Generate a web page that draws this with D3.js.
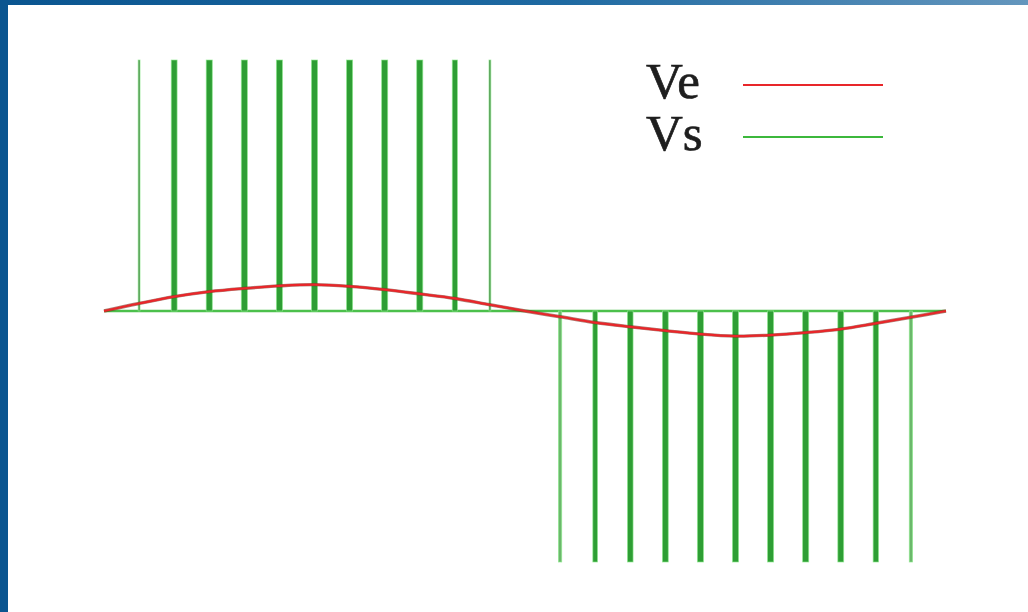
<!DOCTYPE html>
<html>
<head>
<meta charset="utf-8">
<script src="https://cdn.jsdelivr.net/npm/d3@7"></script>
<style>
  html, body { margin: 0; padding: 0; background: #fff; }
  svg { display: block; }
</style>
</head>
<body>
<svg id="chart" width="1028" height="612"></svg>
<script>
// Sinusoidal PWM: reference voltage Ve and switched output Vs over one period (degrees)

// Ve samples (angle in degrees, value in volts)
const veAngles = [0, 15, 30, 45, 60, 75, 90, 105, 120, 135, 150, 165, 180,
                  195, 210, 225, 240, 255, 270, 285, 300, 315, 330, 345, 360];
const veValues = [0, 0.30, 0.57, 0.77, 0.90, 1.00, 1.05, 0.98, 0.85, 0.68, 0.50, 0.25, 0,
                  -0.23, -0.46, -0.63, -0.78, -0.92, -1.00, -0.96, -0.86, -0.72, -0.49, -0.25, 0];

// Vs pulses: centre angle, width (degrees) and level (volts)
const pulseAngles = [15, 30, 45, 60, 75, 90, 105, 120, 135, 150, 165,
                     195, 210, 225, 240, 255, 270, 285, 300, 315, 330, 345];
const pulseWidths = [0.8, 2.5, 2.6, 2.6, 2.6, 2.6, 2.6, 2.6, 2.6, 2.2, 0.8,
                     1.4, 2.0, 2.4, 2.5, 2.6, 2.6, 2.6, 2.6, 2.5, 2.3, 1.4];
const pulseLevels = [10, 10, 10, 10, 10, 10, 10, 10, 10, 10, 10,
                     -10, -10, -10, -10, -10, -10, -10, -10, -10, -10, -10];

const legendNames = ["Ve", "Vs"];
const legendColors = ["#e8262a", "#3cb83c"];

const svg = d3.select("#chart");
const W = 1028, H = 612;

// frame: gradient band on top, solid bar on the left
const defs = svg.append("defs");
const grad = defs.append("linearGradient").attr("id", "topband")
  .attr("x1", "0%").attr("x2", "100%").attr("y1", "0%").attr("y2", "0%");
grad.append("stop").attr("offset", "0%").attr("stop-color", "#0a5590");
grad.append("stop").attr("offset", "55%").attr("stop-color", "#1f6aa2");
grad.append("stop").attr("offset", "100%").attr("stop-color", "#6496bd");

svg.append("rect").attr("x", 0).attr("y", 0).attr("width", W).attr("height", H).attr("fill", "#ffffff");
svg.append("rect").attr("x", 0).attr("y", 0).attr("width", W).attr("height", 5).attr("fill", "url(#topband)");
svg.append("rect").attr("x", 0).attr("y", 0).attr("width", 8).attr("height", H).attr("fill", "#0a5590");

// scales
const x = d3.scaleLinear().domain([0, 360]).range([104, 946]);
const y = d3.scaleLinear().domain([-10, 10]).range([562, 60]);

// zero line of Vs
svg.append("line")
  .attr("x1", x(0)).attr("x2", x(360))
  .attr("y1", y(0)).attr("y2", y(0))
  .attr("stroke", "#4cc04c").attr("stroke-width", 2.4);

// Vs pulses
const pulses = pulseAngles.map((a, i) => ({ a, w: pulseWidths[i], v: pulseLevels[i] }));
svg.append("g").selectAll("rect")
  .data(pulses)
  .join("rect")
  .attr("x", d => x(d.a - d.w / 2))
  .attr("width", d => x(d.w) - x(0))
  .attr("y", d => Math.min(y(d.v), y(0)))
  .attr("height", d => Math.abs(y(d.v) - y(0)))
  .attr("fill", d => d.w < 1 ? "#4f8f4f" : (d.w < 1.6 ? "#6bb86b" : "#2e9e34"))
  .attr("stroke", "#8fea8f")
  .attr("stroke-width", 0.8)
  .attr("stroke-opacity", 0.8);

// Ve curve
const line = d3.line()
  .x((d, i) => x(veAngles[i]))
  .y(d => y(d))
  .curve(d3.curveCatmullRom);

svg.append("path")
  .datum(veValues)
  .attr("d", line)
  .attr("fill", "none")
  .attr("stroke", "#7a2a1a")
  .attr("stroke-width", 3.4)
  .attr("stroke-opacity", 0.6);
svg.append("path")
  .datum(veValues)
  .attr("d", line)
  .attr("fill", "none")
  .attr("stroke", "#e8262a")
  .attr("stroke-width", 2.2);

// legend
const legend = svg.append("g");
const rows = legend.selectAll("g")
  .data(legendNames)
  .join("g")
  .attr("transform", (d, i) => `translate(0, ${i * 52})`);
rows.append("text")
  .attr("x", 646).attr("y", 98)
  .attr("font-family", "'Liberation Serif', 'Times New Roman', serif")
  .attr("font-size", 51)
  .attr("fill", "#1e1e1e")
  .attr("stroke", "#1e1e1e")
  .attr("stroke-width", 0.7)
  .text(d => d);
rows.append("line")
  .attr("x1", 743).attr("x2", 883)
  .attr("y1", 85).attr("y2", 85)
  .attr("stroke", (d, i) => legendColors[i])
  .attr("stroke-width", 2.2);
</script>
</body>
</html>
